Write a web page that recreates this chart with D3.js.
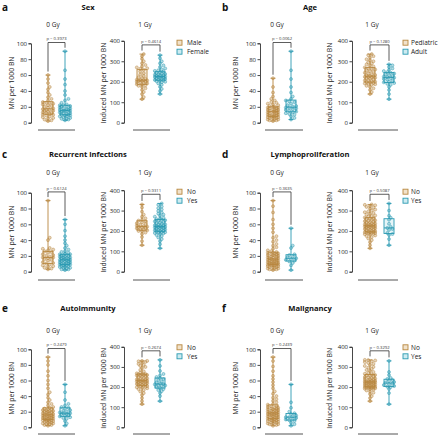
<!DOCTYPE html>
<html><head><meta charset="utf-8">
<script src="https://cdn.jsdelivr.net/npm/d3@7"></script>
<style>body{margin:0;background:#fff}svg{display:block;font-family:"Open Sans",sans-serif}</style>
</head><body>
<script>
// ---------- data ----------
const panelLetters = ["a","b","c","d","e","f"];
const panelTitles = ["Sex","Age","Recurrent infections","Lymphoproliferation","Autoimmunity","Malignancy"];
const groupNames = [["Male","Female"],["Pediatric","Adult"],["No","Yes"],["No","Yes"],["No","Yes"],["No","Yes"]];
const doseLabels = ["0 Gy","1 Gy"];
const yLabels = ["MN per 1000 BN","Induced MN per 1000 BN"];
const yTicks0 = [0,20,40,60,80,100];
const yTicks1 = [0,100,200,300,400];
const pValues0 = ["0.3973","0.0062","0.6124","0.3635","0.2479","0.2439"];
const pValues1 = ["0.4614","0.1280","0.9311","0.5087","0.2674","0.3292"];

const sex0Male = [2,3,4,5,6,7,8,9,10,10,11,12,12,13,14,15,15,16,16,17,18,19,20,21,22,23,24,25,25,26,28,30,32,35,38,42,45,50,55,60];
const sex0Female = [3,4,5,5,6,7,8,8,9,9,10,10,11,12,12,13,14,14,15,15,15,16,16,17,18,18,19,20,20,21,22,22,23,25,28,30,35,40,48,55,66,90];
const sex1Male = [115,125,140,150,160,168,175,180,183,185,188,192,195,198,200,202,204,205,206,207,208,210,214,218,222,228,235,242,250,258,263,266,270,275,282,290,300,312,325,335];
const sex1Female = [140,155,165,175,185,192,198,200,203,205,207,209,211,213,215,217,219,221,223,224,225,226,228,230,232,234,236,238,240,243,246,250,253,256,260,265,272,280,290,300,315,330];

const age0Ped = [2,3,3,4,4,5,5,6,6,7,7,8,8,8,9,9,10,10,11,11,12,12,13,13,14,14,15,15,16,16,17,17,18,18,19,19,20,20,21,22,23,24,25,26,28,30,33,38,45,56];
const age0Adult = [4,6,8,10,11,12,13,14,15,16,17,18,19,19,20,21,22,24,26,27,28,30,33,38,45,55,66,90];
const age1Ped = [140,150,160,168,175,180,185,188,190,192,194,196,198,200,203,206,209,212,215,218,220,222,224,225,226,228,230,233,236,240,244,248,252,256,260,263,266,270,275,280,285,290,295,300,305,310,318,325,330,335];
const age1Adult = [115,140,160,175,185,190,194,197,200,205,210,214,218,220,222,225,228,232,236,240,244,247,252,258,265,272,280,285];

const inf0No = [3,4,5,6,7,8,9,10,11,12,14,15,16,17,18,18,19,20,21,22,24,25,26,27,28,29,30,40,43,90];
const inf0Yes = [2,3,3,4,5,5,6,6,7,7,8,8,9,9,9,10,10,11,11,12,12,13,13,14,14,15,15,15,16,16,17,17,18,18,19,19,20,20,21,21,22,22,23,24,25,26,28,30,33,36,40,45,52,60,66];
const inf1No = [130,150,170,185,192,198,200,203,206,210,213,216,218,220,221,223,226,230,234,238,243,248,251,255,262,270,280,295,315,330];
const inf1Yes = [115,135,150,160,168,175,180,185,188,190,192,194,195,197,199,201,203,205,207,209,211,213,215,217,219,220,221,222,224,226,228,230,232,235,238,241,244,247,250,253,255,258,261,265,270,275,280,285,290,298,305,312,320,328,335];

const lym0No = [2,3,3,4,4,5,5,6,6,7,7,8,8,8,9,9,9,9,10,10,10,11,11,11,12,12,13,13,14,14,14,15,15,15,16,16,17,17,18,18,19,19,20,20,21,21,22,22,23,23,24,24,25,26,27,29,31,33,35,38,40,43,45,50,55,60,66,75,83,90];
const lym0Yes = [2,8,11,13,14,15,16,17,18,19,21,22,30,33,55];
const lym1No = [115,130,145,155,163,170,175,178,181,184,186,188,190,191,192,193,194,195,197,199,201,203,205,207,209,211,213,215,217,219,221,222,223,224,225,226,228,230,232,234,236,238,240,242,245,248,250,252,255,258,260,263,266,270,273,276,280,284,288,292,296,300,305,310,315,318,322,326,328,330];
const lym1Yes = [130,160,180,185,190,205,210,215,220,235,255,265,275,300,335];

const aut0No = [2,3,3,4,4,5,5,6,6,7,7,8,8,9,9,9,10,10,10,11,11,12,12,13,13,13,14,14,15,15,15,16,16,17,17,18,18,19,19,20,20,21,21,22,22,23,23,24,25,26,28,30,32,35,38,42,45,50,55,60,66,72,80,85,90];
const aut0Yes = [2,5,8,11,12,13,14,15,16,17,17,18,18,19,20,21,22,24,25,26,28,30,35,45,55];
const aut1No = [115,130,145,160,170,178,185,190,194,197,199,201,203,205,207,209,211,213,215,217,219,221,223,225,227,228,229,230,231,232,234,236,238,240,243,246,249,252,255,258,258,260,262,263,264,265,268,272,278,285,295,300,305,310,315,320,325,328,330,330];
const aut1Yes = [130,155,170,180,185,190,195,200,205,208,210,213,215,218,222,228,235,240,245,250,258,265,280,305,335];

const mal0No = [2,3,4,4,5,5,6,6,7,7,8,8,9,9,10,10,10,11,11,12,12,13,13,14,14,15,15,16,16,16,17,17,17,18,18,19,19,20,20,21,21,22,22,23,23,24,24,25,25,26,27,28,29,30,32,34,36,38,40,43,46,50,54,58,62,66,72,78,85,90];
const mal0Yes = [2,4,6,8,9,10,11,12,13,13,14,15,17,18,20,25,32,55];
const mal1No = [130,145,155,165,172,178,183,187,190,192,194,195,196,197,198,199,200,201,202,203,205,207,208,210,212,213,215,216,218,219,220,222,223,224,225,226,228,229,230,232,234,236,238,240,242,245,248,250,253,256,258,260,263,266,270,275,280,285,290,296,300,305,310,315,320,324,328,332,334,335];
const mal1Yes = [115,170,190,200,202,205,210,215,218,222,225,230,235,240,245,260,275,330];

const panelData = [
  [[sex0Male,sex0Female],[sex1Male,sex1Female]],
  [[age0Ped,age0Adult],[age1Ped,age1Adult]],
  [[inf0No,inf0Yes],[inf1No,inf1Yes]],
  [[lym0No,lym0Yes],[lym1No,lym1Yes]],
  [[aut0No,aut0Yes],[aut1No,aut1Yes]],
  [[mal0No,mal0Yes],[mal1No,mal1Yes]]
];

// ---------- layout ----------
const W = 440, H = 436;
const colors = ["#b8873f","#2a9ab2"];
const lightFill = ["#f1e2cb","#cdebf1"];
const cols = [
  {letterX:2, titleX:88, sub:[53,145], axis:[31,124], box:[[48,65],[142,160]], line:[[38,75],[133,170]], ylab:[12,104], legSq:177, legTx:187},
  {letterX:222, titleX:310, sub:[277,372], axis:[260,352], box:[[273,291],[370,389]], line:[[265,303],[358,398]], ylab:[236,330], legSq:403, legTx:411}
];
const rows = [
  {title:7, sub:25, top:43.3, bot:122.7, line:130, leg:42.7},
  {title:154, sub:173, top:192.7, bot:271.7, line:280, leg:191.7},
  {title:308, sub:330.7, top:349.3, bot:427.3, line:434, leg:347.3}
];

const svg = d3.select("body").append("svg").attr("width",W).attr("height",H);

function swarm(values, y, cx, r, maxHalf) {
  const sorted = values.slice().sort((a,b)=>a-b);
  const placed = [];
  const step = r*1.15;
  sorted.forEach(v => {
    const py = y(v);
    let best = null, bestScore = -1;
    for (let k=0; k<30; k++) {
      const off = (k%2===1 ? 1 : -1) * Math.ceil(k/2) * step;
      if (Math.abs(off) > maxHalf) break;
      const x = cx + off;
      let minD = Infinity;
      placed.forEach(p => { const d = Math.hypot(p.x-x, p.y-py); if (d<minD) minD = d; });
      if (minD >= 2*r*0.85) { best = x; break; }
      if (minD > bestScore) { bestScore = minD; best = x; }
    }
    placed.push({x:best, y:py, v});
  });
  return placed;
}

function boxStats(vals) {
  const s = vals.slice().sort(d3.ascending);
  return {min:s[0], q1:d3.quantile(s,0.25), med:d3.quantile(s,0.5), q3:d3.quantile(s,0.75), max:s[s.length-1]};
}

panelData.forEach((pd, pi) => {
  const col = cols[pi%2], row = rows[Math.floor(pi/2)];
  const g = svg.append("g");
  g.append("text").attr("x",col.letterX).attr("y",row.title+3.5).attr("font-size",10).attr("font-weight",700).attr("fill","#111").text(panelLetters[pi]);
  g.append("text").attr("x",col.titleX).attr("y",row.title+2.7).attr("text-anchor","middle").attr("font-size",7.6).attr("font-weight",700).attr("fill","#111").text(panelTitles[pi]);

  pd.forEach((groups, di) => {
    const top = di===0 ? row.top : row.top-2.5;
    const y = d3.scaleLinear().domain([0, di===0?100:400]).range([row.bot, top]);
    const ax = col.axis[di];
    // subtitle
    g.append("text").attr("x",col.sub[di]).attr("y",row.sub+2.3).attr("text-anchor","middle").attr("font-size",6.5).attr("fill","#222").text(doseLabels[di]);
    // y axis
    const axis = d3.axisLeft(y).tickValues(di===0?yTicks0:yTicks1).tickSize(2.5).tickPadding(1.5).tickFormat(d3.format("d"));
    const ag = g.append("g").attr("transform",`translate(${ax},0)`).call(axis);
    ag.select(".domain").attr("stroke","#333").attr("stroke-width",0.9);
    ag.selectAll(".tick line").attr("stroke","#333").attr("stroke-width",0.9);
    ag.selectAll(".tick text").attr("font-size",6).attr("font-family","Open Sans").attr("fill","#222");
    // y label
    g.append("text").attr("transform",`translate(${col.ylab[di]},${(row.top+row.bot)/2}) rotate(-90)`).attr("text-anchor","middle").attr("dy","0.35em").attr("font-size",6.9).attr("fill","#222").text(yLabels[di]);
    // bottom line
    g.append("line").attr("x1",col.line[di][0]).attr("x2",col.line[di][1]).attr("y1",row.line).attr("y2",row.line).attr("stroke","#555").attr("stroke-width",1);

    const stats = groups.map(boxStats);
    groups.forEach((vals, gi) => {
      const cx = col.box[di][gi], c = colors[gi];
      const st = stats[gi];
      const bw = 10;
      // box fill
      g.append("rect").attr("x",cx-bw/2).attr("y",y(st.q3)).attr("width",bw).attr("height",y(st.q1)-y(st.q3)).attr("fill",lightFill[gi]).attr("fill-opacity",0.5);
      // points
      const pts = swarm(vals, y, cx, 1.5, 5.2);
      g.append("g").selectAll("circle").data(pts).join("circle")
        .attr("cx",d=>d.x).attr("cy",d=>d.y).attr("r",1.5)
        .attr("fill",c).attr("fill-opacity",0.35).attr("stroke",c).attr("stroke-opacity",0.85).attr("stroke-width",0.55);
      // whiskers
      g.append("line").attr("x1",cx).attr("x2",cx).attr("y1",y(st.max)).attr("y2",y(st.q3)).attr("stroke",c).attr("stroke-width",0.9);
      g.append("line").attr("x1",cx).attr("x2",cx).attr("y1",y(st.q1)).attr("y2",y(st.min)).attr("stroke",c).attr("stroke-width",0.9);
      [st.max, st.min].forEach(v => g.append("line").attr("x1",cx-2.5).attr("x2",cx+2.5).attr("y1",y(v)).attr("y2",y(v)).attr("stroke",c).attr("stroke-width",0.9));
      // box outline + median
      g.append("rect").attr("x",cx-bw/2).attr("y",y(st.q3)).attr("width",bw).attr("height",y(st.q1)-y(st.q3)).attr("fill","none").attr("stroke",c).attr("stroke-width",0.9);
      g.append("line").attr("x1",cx-bw/2).attr("x2",cx+bw/2).attr("y1",y(st.med)).attr("y2",y(st.med)).attr("stroke",c).attr("stroke-width",0.9);
    });
    // bracket
    const bTop = y(di===0?101:380);
    const x1 = col.box[di][0], x2 = col.box[di][1];
    const l1 = y(stats[0].max)-3.5, l2 = y(stats[1].max)-3.5;
    g.append("path").attr("d",`M${x1},${l1}V${bTop}H${x2}V${l2}`).attr("fill","none").attr("stroke","#333").attr("stroke-width",0.8);
    g.append("text").attr("x",(x1+x2)/2).attr("y",bTop-2.2).attr("text-anchor","middle").attr("font-size",4.2).attr("fill","#333").text("p = " + (di===0?pValues0:pValues1)[pi]);
  });

  // legend
  groupNames[pi].forEach((nm, gi) => {
    const ly = row.leg + gi*9;
    g.append("rect").attr("x",col.legSq).attr("y",ly-2.5).attr("width",5).attr("height",5).attr("fill",lightFill[gi]).attr("stroke",colors[gi]).attr("stroke-width",0.9);
    g.append("text").attr("x",col.legTx).attr("y",ly+2.3).attr("font-size",6.5).attr("fill","#222").text(nm);
  });
});
</script>
</body></html>
